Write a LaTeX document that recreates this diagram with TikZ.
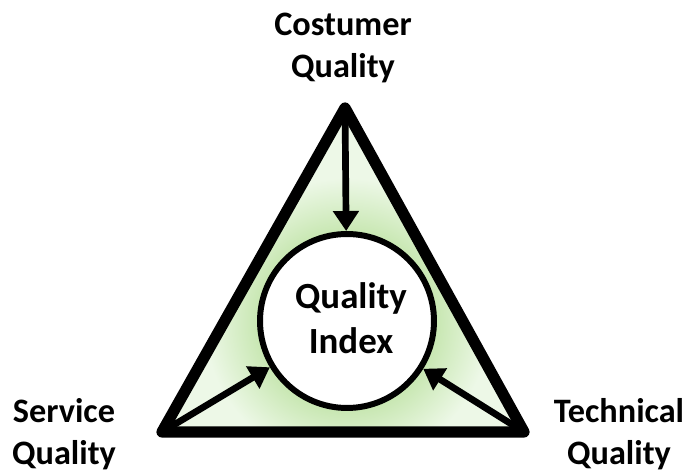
\documentclass[tikz,border=0pt]{standalone}
\usepackage{fontspec}
\setmainfont{Carlito}
\usetikzlibrary{arrows.meta}

\definecolor{glowgreen}{RGB}{200,231,178}
\definecolor{palegreen}{RGB}{237,248,231}
\pgfdeclareradialshading{qglow}{\pgfpoint{0bp}{0bp}}{color(0bp)=(glowgreen); color(8.4bp)=(glowgreen); color(13.5bp)=(palegreen); color(50bp)=(palegreen)}

\tikzset{
    qtext/.style={font=\fontsize{19.5}{24}\selectfont\bfseries, align=center},
    edge/.style={line width=6.4pt, line join=round},
    feed/.style={line width=3.8pt, -{Triangle[length=0.4cm, width=0.5cm]}}
}

\begin{document}
\begin{tikzpicture}[x=0.02cm, y=-0.02cm]
        \useasboundingbox (0,0) rectangle (700,472);
        % corners of the triangle
        \coordinate (cq) at (345,108);
        \coordinate (sq) at (162,432);
        \coordinate (tq) at (524,432);
        % green glow inside the triangle
        \begin{scope}
            \clip (cq) -- (sq) -- (tq) -- cycle;
            \shade[shading=qglow] (347,321) circle (265);
        \end{scope}
        % outer triangle
        \draw[edge] (cq) -- (sq) -- (tq) -- cycle;
        % the index in the middle
        \node[circle, draw, line width=3.4pt, fill=white, minimum size=3.48cm] (qi) at (347,321) {};
        \node[qtext, font=\fontsize{21}{25.5}\selectfont\bfseries] (qitext) at (351,318) {Quality\\Index};
        % arrows from the corners
        \draw[feed] (cq) -- (qi);
        \draw[feed] (sq) -- (qi);
        \draw[feed] (tq) -- (qi);
        % corner labels
        \node[qtext] (costumer) at (343,48) {Costumer\\Quality};
        \node[qtext] (service) at (64,434) {Service\\Quality};
        \node[qtext] (technical) at (619,434) {Technical\\Quality};
\end{tikzpicture}
\end{document}
